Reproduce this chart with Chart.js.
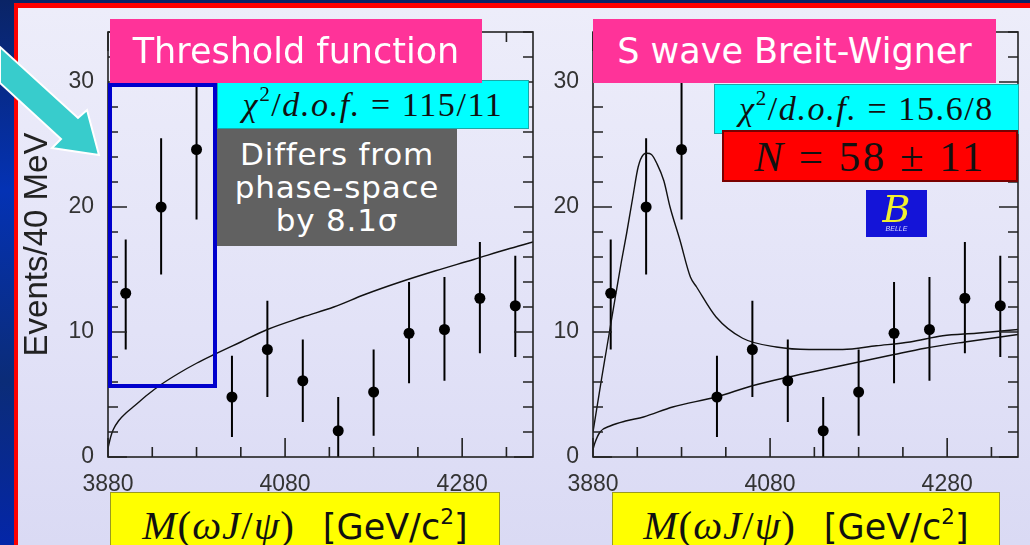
<!DOCTYPE html>
<html>
<head>
<meta charset="utf-8">
<script src="https://cdn.jsdelivr.net/npm/chart.js@4.4.1/dist/chart.umd.min.js"></script>
<style>
  body {
    margin: 0; width: 1030px; height: 545px; overflow: hidden; position: relative;
    background: linear-gradient(180deg, #0a2466 0%, #0432b4 35%, #0b2c78 70%, #0426a8 100%);
    font-family: "Liberation Sans", Arial, sans-serif;
  }
  .abs { position: absolute; box-sizing: border-box; }
  #panel { left: 18px; top: 8px; right: 0; bottom: 0; background: linear-gradient(180deg, #ededfa 0%, #e2e2f7 60%, #dadaf4 100%); }
  #redTop { left: 14px; top: 3px; right: 0; height: 5px; background: #ff0000; }
  #redLeft { left: 14px; top: 3px; width: 4px; bottom: 0; background: #ff0000; }
  canvas { position: absolute; top: 0; }
  #left { left: 0; }
  #right { left: 485px; }
  .pink { background: #ff3399; color: #fff; font-family: "DejaVu Sans", sans-serif; font-size: 35px;
          display: flex; align-items: center; justify-content: center; white-space: nowrap; }
  .cyan { background: #00ffff; border: 1px solid #1aa8a8; color: #111; font-family: "Liberation Serif", serif;
          font-size: 34px; display: flex; align-items: center; justify-content: center; white-space: nowrap; letter-spacing: 1.6px; }
  .cyan sup, .red sup { font-size: 0.62em; position: relative; top: -0.15em; }
  .grey { background: #616161; color: #fff; font-family: "DejaVu Sans", sans-serif; font-size: 31px; line-height: 33px;
          letter-spacing: 0.8px; display: flex; align-items: center; justify-content: center; text-align: center; }
  .red { background: #ff0000; border: 2px solid #7a0000; color: #111; font-family: "Liberation Serif", serif;
         font-size: 43px; display: flex; align-items: center; justify-content: center; white-space: nowrap; letter-spacing: 2.5px; }
  .yellow { background: #ffff00; border: 1.5px solid #9a9a20; color: #111; font-family: "Liberation Serif", serif;
            font-size: 41px; line-height: 42px; white-space: nowrap; text-align: center; padding-top: 5px; letter-spacing: 1px; }
  .yellow .s { font-family: "DejaVu Sans", sans-serif; font-size: 35px; margin-left: 28px; letter-spacing: 0; }
  .yellow sup { font-size: 0.62em; position: relative; top: -0.1em; }
  #box { left: 108px; top: 83px; width: 109px; height: 305px; border: 4px solid #0000cc; }
  #belle { left: 866px; top: 190px; width: 61px; height: 47px; background: #1414d8; color: #f0f030; text-align: center; }
  #belle .b { font-family: "DejaVu Serif", serif; font-style: italic; font-size: 38px; line-height: 38px; display: block; }
  #belle .t { font-size: 7px; font-style: italic; color: #d8d8ff; display: block; margin-top: -3px; }
  svg { position: absolute; left: 0; top: 0; }
</style>
</head>
<body>
<div class="abs" id="panel"></div>
<div class="abs" id="redTop"></div>
<div class="abs" id="redLeft"></div>

<canvas id="left" width="540" height="545"></canvas>
<canvas id="right" width="545" height="545"></canvas>

<div class="abs" id="box"></div>
<div class="abs cyan" style="left:217px;top:80px;width:312px;height:49px;"><span><i>χ</i><sup>2</sup>/<i>d.o.f.</i> = 115/11</span></div>
<div class="abs pink" style="left:110px;top:19px;width:372px;height:64px;">Threshold function</div>
<div class="abs grey" style="left:217px;top:129px;width:240px;height:117px;">Differs from<br>phase-space<br>by 8.1σ</div>
<div class="abs yellow" style="left:110px;top:492px;width:390px;height:60px;"><i>M</i>(<i>ωJ</i>/<i>ψ</i>)<span class="s">[GeV/c<sup>2</sup>]</span></div>

<div class="abs cyan" style="left:714px;top:84px;width:305px;height:50px;"><span><i>χ</i><sup>2</sup>/<i>d.o.f.</i> = 15.6/8</span></div>
<div class="abs pink" style="left:593px;top:19px;width:403px;height:64px;">S wave Breit-Wigner</div>
<div class="abs red" style="left:722px;top:130px;width:296px;height:52px;"><span><i>N</i> = 58 ± 11</span></div>
<div class="abs" id="belle"><span class="b">B</span><span class="t">BELLE</span></div>
<div class="abs yellow" style="left:612px;top:492px;width:388px;height:60px;"><i>M</i>(<i>ωJ</i>/<i>ψ</i>)<span class="s">[GeV/c<sup>2</sup>]</span></div>

<svg width="120" height="170">
  <polygon points="0,47 78,118 87,110 99,155 52,148 61,139 0,83" fill="#38cccc" stroke="#ffffff" stroke-width="2" stroke-linejoin="miter"/>
</svg>

<script>
// ω J/ψ mass spectrum, 40 MeV bins
const binCenters = [3900, 3940, 3980, 4020, 4060, 4100, 4140, 4180, 4220, 4260, 4300, 4340];
const counts     = [13.1, 20.0, 24.6, 4.8, 8.6, 6.1, 2.1, 5.2, 9.9, 10.2, 12.7, 12.1];
const errTop     = [17.4, 25.5, 30.6, 8.1, 12.5, 9.4, 4.8, 8.6, 14.0, 14.4, 17.2, 16.1];
const errBottom  = [8.6, 14.6, 19.0, 1.6, 4.8, 2.8, 0.0, 1.7, 5.9, 6.1, 8.3, 8.0];

// threshold (phase-space) fit
const thrMass = [3880, 3883, 3886, 3892, 3900, 3910, 3925, 3940, 3960, 3980, 4000, 4030, 4060, 4100, 4135, 4170, 4210, 4250, 4293, 4330, 4360];
const thrFit  = [0.7, 1.6, 2.2, 2.9, 3.5, 4.1, 5.0, 5.8, 6.7, 7.5, 8.2, 9.2, 10.2, 11.2, 12.0, 13.0, 14.0, 14.9, 15.8, 16.6, 17.2];

// S-wave Breit-Wigner fit: background and total
const bgMass = [3880, 3882, 3888, 3900, 3918, 3937, 3970, 4019, 4060, 4101, 4140, 4180, 4220, 4255, 4300, 4360];
const bgFit  = [0.6, 1.1, 2.0, 2.5, 2.9, 3.2, 4.0, 4.8, 5.7, 6.4, 7.0, 7.6, 8.2, 8.7, 9.2, 9.8];
const totMass = [3880, 3885, 3890, 3895, 3900, 3905, 3912, 3918, 3925, 3931, 3937, 3941, 3946, 3952, 3960, 3967, 3978, 3990, 3997, 4019, 4049, 4087, 4124, 4162, 4200, 4238, 4275, 4313, 4360];
const totFit  = [2.0, 4.2, 6.4, 8.5, 10.6, 12.7, 15.6, 17.9, 20.8, 23.2, 24.2, 24.3, 24.2, 23.5, 22.1, 20.0, 17.4, 14.4, 13.6, 11.2, 9.5, 8.8, 8.6, 8.6, 8.9, 9.2, 9.7, 9.9, 10.2];

const xTicks = [3880, 4080, 4280];
const yTicks = [0, 10, 20, 30];

const xy = (xs, ys) => xs.map((x, i) => ({x, y: ys[i]}));

// error bars behind the markers, frame with inward ticks on all four sides
const histoDecor = {
  id: 'histoDecor',
  beforeDatasetsDraw(chart) {
    const {ctx, scales: {x, y}} = chart;
    ctx.save();
    ctx.strokeStyle = '#000';
    ctx.lineWidth = 2;
    binCenters.forEach((m, i) => {
      const px = x.getPixelForValue(m);
      ctx.beginPath();
      ctx.moveTo(px, y.getPixelForValue(errBottom[i]));
      ctx.lineTo(px, y.getPixelForValue(errTop[i]));
      ctx.stroke();
    });
    ctx.restore();
  },
  afterDraw(chart) {
    const {ctx, chartArea: a, scales: {x, y}} = chart;
    ctx.save();
    ctx.strokeStyle = '#222';
    ctx.lineWidth = 1.6;
    ctx.strokeRect(a.left, a.top, a.right - a.left, a.bottom - a.top);
    ctx.beginPath();
    for (let m = x.min; m <= x.max; m += 50) {
      const px = x.getPixelForValue(m);
      const len = (m - x.min) % 200 === 0 ? 19 : 10;
      ctx.moveTo(px, a.bottom); ctx.lineTo(px, a.bottom - len);
      ctx.moveTo(px, a.top); ctx.lineTo(px, a.top + len);
    }
    for (let v = 0; v <= y.max; v += 2) {
      const py = y.getPixelForValue(v);
      const len = v % 10 === 0 ? 19 : 10;
      ctx.moveTo(a.left, py); ctx.lineTo(a.left + len, py);
      ctx.moveTo(a.right, py); ctx.lineTo(a.right - len, py);
    }
    ctx.stroke();
    ctx.restore();
  }
};

function makeChart(id, curves, rightPad, yTitle) {
  const datasets = [{
    type: 'scatter',
    data: xy(binCenters, counts),
    pointRadius: 5.5,
    pointBackgroundColor: '#000',
    pointBorderWidth: 0
  }];
  curves.forEach(c => datasets.push({
    type: 'line',
    data: xy(c[0], c[1]),
    borderColor: '#111',
    borderWidth: 1.4,
    pointRadius: 0,
    cubicInterpolationMode: 'monotone',
    fill: false
  }));

  const tickFont = {family: 'Liberation Sans', size: 23};
  return new Chart(document.getElementById(id), {
    data: {datasets},
    options: {
      responsive: false,
      animation: false,
      layout: {padding: {left: 0, top: 32, right: rightPad, bottom: 0}},
      plugins: {legend: {display: false}, tooltip: {enabled: false}},
      scales: {
        x: {
          type: 'linear', min: 3880, max: 4360,
          grid: {display: false, drawTicks: false},
          border: {display: false},
          ticks: {font: tickFont, color: '#333', padding: 14, maxRotation: 0, autoSkip: false,
                  callback: v => String(v)},
          afterBuildTicks: s => { s.ticks = xTicks.map(v => ({value: v})); },
          afterFit: s => { s.height = 88; }
        },
        y: {
          type: 'linear', min: 0, max: 34,
          grid: {display: false, drawTicks: false},
          border: {display: false},
          ticks: {font: tickFont, color: '#333', padding: 14, callback: v => String(v)},
          afterBuildTicks: s => { s.ticks = yTicks.map(v => ({value: v})); },
          afterFit: s => { s.width = 108; },
          title: yTitle ? {display: true, text: yTitle, color: '#222',
                           font: {family: 'Liberation Sans', size: 33}, padding: {top: 18, bottom: 0}}
                        : {display: false}
        }
      }
    },
    plugins: [histoDecor]
  });
}

makeChart('left', [[thrMass, thrFit]], 7, 'Events/40 MeV');
makeChart('right', [[totMass, totFit], [bgMass, bgFit]], 12, null);
</script>
</body>
</html>
